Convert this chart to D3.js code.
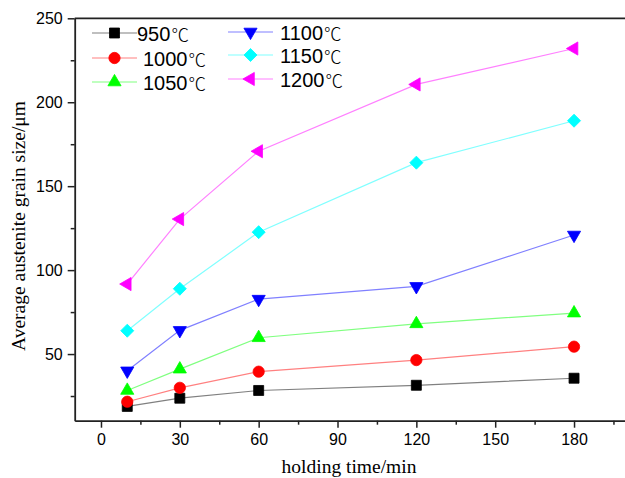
<!DOCTYPE html>
<html>
<head>
<meta charset="utf-8">
<script src="https://cdn.jsdelivr.net/npm/d3@7"></script>
<style>
  body { margin: 0; background: #fff; }
  .tick text { font-family: "Liberation Sans", Arial, sans-serif; font-size: 16px; fill: #000; }
  .axis path, .axis line { stroke: #222; }
  .title { font-family: "Liberation Serif", "Times New Roman", serif; font-size: 19.5px; fill: #000; }
  .leg { font-family: "Liberation Sans", Arial, sans-serif; font-size: 20px; fill: #000; }
  .deg { font-family: "Noto Sans CJK SC", sans-serif; font-weight: 300; font-size: 17.5px; }
</style>
</head>
<body>
<svg width="625" height="478"></svg>
<script>
// holding time (min)
var times = [10, 30, 60, 120, 180];

// grain size per temperature (µm)
var s950  = [18.8, 23.7, 28.3, 31.4, 35.6];
var s1000 = [21.6, 29.9, 39.5, 46.4, 54.4];
var s1050 = [28.3, 41.0, 59.7, 68.0, 74.4];
var s1100 = [40.0, 64.1, 82.7, 90.3, 120.9];
var s1150 = [63.9, 88.9, 122.6, 164.0, 189.0];
var s1200 = [91.7, 130.4, 170.8, 210.6, 232.0];

var labels = ["950", "1000", "1050", "1100", "1150", "1200"];
var xTicks = [0, 30, 60, 90, 120, 150, 180];
var yTicks = [50, 100, 150, 200, 250];

var series = [
  {name: labels[0], values: s950,  fill: "#000000", line: "#808080", shape: d3.symbolSquare,   size: 100, rot: 0},
  {name: labels[1], values: s1000, fill: "#ff0000", line: "#ff8080", shape: d3.symbolCircle,   size: 100, rot: 0},
  {name: labels[2], values: s1050, fill: "#00ff00", line: "#80ff80", shape: d3.symbolTriangle, size: 75,  rot: 0},
  {name: labels[3], values: s1100, fill: "#0000ff", line: "#8080ff", shape: d3.symbolTriangle, size: 75,  rot: 180},
  {name: labels[4], values: s1150, fill: "#00ffff", line: "#80ffff", shape: d3.symbolSquare,   size: 85,  rot: 45},
  {name: labels[5], values: s1200, fill: "#ff00ff", line: "#ff80ff", shape: d3.symbolTriangle, size: 75,  rot: -90}
];

var svg = d3.select("svg"),
    g = svg.append("g");

var x = d3.scaleLinear().domain([-10, 200]).range([74.7, 626.6]);
var y = d3.scaleLinear().domain([10.3, 250]).range([420.7, 18.3]);

// frame top line (right side falls outside the picture)
g.append("line")
    .attr("x1", x(-10)).attr("x2", x(200))
    .attr("y1", y(250)).attr("y2", y(250))
    .attr("stroke", "#222").attr("stroke-width", 1.8);

// minor ticks
g.append("g")
    .attr("class", "axis")
    .attr("transform", "translate(0," + y(10.3) + ")")
    .call(d3.axisBottom(x).tickValues(d3.range(15, 200, 30)).tickSize(4).tickFormat(""))
    .call(function(a) { a.select(".domain").remove(); a.selectAll("line").attr("stroke-width", 1.5); });

g.append("g")
    .attr("class", "axis")
    .attr("transform", "translate(" + x(-10) + ",0)")
    .call(d3.axisLeft(y).tickValues([25, 75, 125, 175, 225]).tickSize(4).tickFormat(""))
    .call(function(a) { a.select(".domain").remove(); a.selectAll("line").attr("stroke-width", 1.5); });

// major axes
g.append("g")
    .attr("class", "axis")
    .attr("transform", "translate(0," + y(10.3) + ")")
    .call(d3.axisBottom(x).tickValues(xTicks).tickSize(7).tickSizeOuter(0).tickPadding(6))
    .call(function(a) {
      a.select(".domain").attr("stroke-width", 1.8);
      a.selectAll("line").attr("stroke-width", 1.5);
    });

g.append("g")
    .attr("class", "axis")
    .attr("transform", "translate(" + x(-10) + ",0)")
    .call(d3.axisLeft(y).tickValues(yTicks).tickSize(7).tickSizeOuter(0).tickPadding(5))
    .call(function(a) {
      a.select(".domain").attr("stroke-width", 1.8);
      a.selectAll("line").attr("stroke-width", 1.5);
    });

// axis titles
svg.append("text")
    .attr("class", "title")
    .attr("x", 349).attr("y", 473)
    .attr("text-anchor", "middle")
    .text("holding time/min");

svg.append("text")
    .attr("class", "title")
    .attr("transform", "translate(25,226) rotate(-90)")
    .attr("text-anchor", "middle")
    .text("Average austenite grain size/μm");

// lines + markers
var line = d3.line()
    .x(function(d, i) { return x(times[i]); })
    .y(function(d) { return y(d); });

function sym(s) {
  return d3.symbol().type(s.shape).size(s.size)();
}

series.forEach(function(s) {
  g.append("path")
      .datum(s.values)
      .attr("fill", "none")
      .attr("stroke", s.line)
      .attr("stroke-width", 1.2)
      .attr("d", line);

  g.selectAll(null)
      .data(s.values)
    .enter().append("path")
      .attr("d", sym(s))
      .attr("fill", s.fill)
      .attr("stroke", s.fill)
      .attr("stroke-width", 0.8)
      .attr("transform", function(d, i) {
        return "translate(" + x(times[i]) + "," + y(d) + ") rotate(" + s.rot + ")";
      });
});

// legend
var legPos = [
  {x: 92, y: 33, tx: 137}, {x: 92, y: 58, tx: 143}, {x: 92, y: 82, tx: 143},
  {x: 228, y: 32, tx: 280}, {x: 228, y: 55, tx: 280}, {x: 228, y: 79, tx: 280}
];

var leg = svg.append("g");
series.forEach(function(s, i) {
  var p = legPos[i];
  leg.append("line")
      .attr("x1", p.x).attr("x2", p.x + 45)
      .attr("y1", p.y).attr("y2", p.y)
      .attr("stroke", s.line).attr("stroke-width", 1.2);
  leg.append("path")
      .attr("d", sym(s))
      .attr("fill", s.fill).attr("stroke", s.fill).attr("stroke-width", 0.8)
      .attr("transform", "translate(" + (p.x + 22.5) + "," + p.y + ") rotate(" + s.rot + ")");
  var t = leg.append("text")
      .attr("class", "leg")
      .attr("x", p.tx).attr("y", p.y + 7.5);
  t.append("tspan").text(s.name);
  t.append("tspan").attr("class", "deg").attr("dx", 1).text("℃");
});
</script>
</body>
</html>
